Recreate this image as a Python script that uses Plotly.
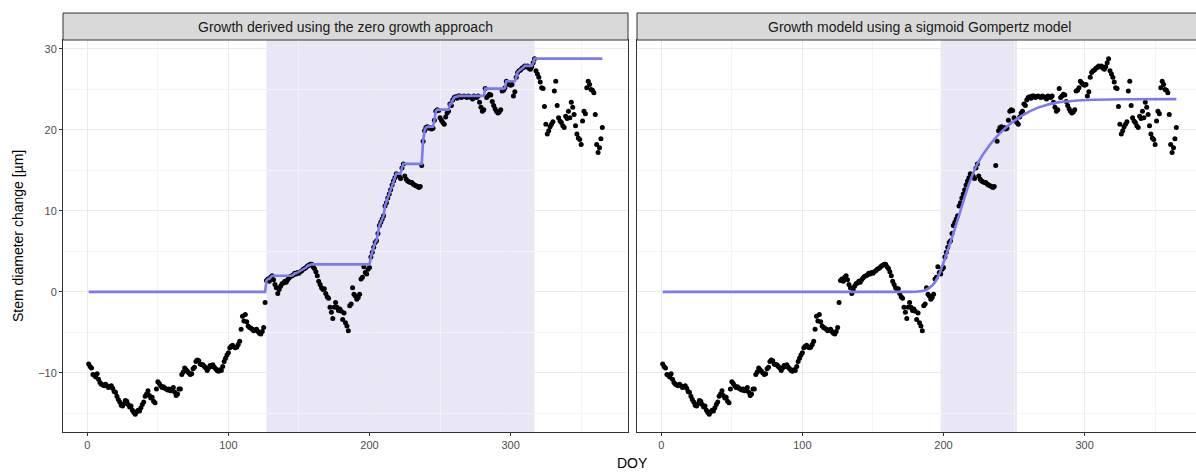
import numpy as np
import plotly.graph_objects as go
from plotly.subplots import make_subplots

# ---- data -------------------------------------------------------------
doy = list(range(1, 366))
stem_change = [
    -8.9, -9.2, -9.4, -10.2, -10.3, -10.5, -10.1, -10.8, -11.2, -11.4,
    -11.5, -11.6, -11.4, -11.6, -11.8, -11.7, -11.6, -11.9, -12.3, -12.4,
    -12.9, -13.3, -13.6, -14.0, -14.1, -13.8, -13.4, -13.5, -13.9, -14.2,
    -14.1, -14.6, -14.9, -15.1, -14.8, -14.6, -14.7, -14.3, -13.9, -13.6,
    -12.9, -12.6, -12.2, -12.8, -13.1, -13.0, -13.5, -13.7, -12.0, -11.1,
    -11.3, -11.6, -11.8, -11.7, -11.9, -12.0, -12.1, -12.0, -12.2, -12.0,
    -11.8, -12.4, -12.8, -12.6, -12.0, -12.0, -10.2, -9.9, -9.4, -9.6,
    -9.8, -10.0, -10.2, -10.1, -9.5, -9.3, -8.6, -8.4, -8.5, -8.9,
    -9.0, -9.0, -9.2, -9.4, -9.7, -9.4, -9.1, -9.2, -9.0, -9.3,
    -9.5, -9.7, -9.8, -9.6, -9.7, -9.2, -8.6, -8.2, -7.8, -7.5,
    -6.9, -6.7, -6.6, -6.8, -6.9, -6.8, -6.5, -6.1, -4.6, -3.0,
    -3.6, -2.8, -3.7, -4.2, -4.4, -4.5, -4.6, -4.8, -4.7, -4.6,
    -4.9, -5.1, -5.2, -4.9, -4.4, -1.3, 1.4, 1.6, 1.3, 1.8,
    2.0, 1.5, 0.9, 0.5, -0.2, 0.3, 0.7, 1.0, 1.1, 1.3,
    1.2, 1.5, 1.7, 1.9, 2.0, 2.1, 2.3, 2.2, 2.4, 2.3,
    2.5, 2.6, 2.8, 2.9, 3.0, 3.2, 3.3, 3.4, 3.4, 3.1,
    2.9, 2.5, 2.0, 1.3, 0.9, 0.5, 0.3, 0.4, -0.2, -0.6,
    -0.8, -1.9, -2.5, -3.3, -1.9, -1.3, -1.9, -2.3, -2.1, -2.4,
    -3.4, -2.6, -3.8, -4.2, -4.8, -1.7, -1.5, 0.5, -0.3, -0.5,
    -0.9, -0.7, -0.3, 1.6, 1.8, 3.1, 2.4, 2.2, 2.8, 3.0,
    4.3, 4.9, 5.5, 6.1, 6.3, 7.2, 8.2, 8.6, 9.0, 9.4,
    10.6, 11.0, 11.6, 12.1, 12.6, 13.2, 13.7, 14.1, 14.6, 14.5,
    14.3, 14.0, 15.3, 15.8, 14.3, 13.9, 13.7, 13.6, 13.5, 13.5,
    13.3, 13.2, 13.1, 13.0, 12.9, 13.0, 15.6, 18.6, 19.9, 20.3,
    20.4, 20.2, 20.3, 20.1, 20.2, 21.2, 22.3, 22.5, 22.4, 21.5,
    21.2, 20.9, 20.7, 21.6, 22.1, 22.3, 23.2, 23.0, 23.7, 24.0,
    24.1, 23.9, 24.2, 24.2, 24.0, 24.1, 24.2, 24.1, 24.0, 24.2,
    24.1, 24.0, 23.8, 24.2, 24.1, 24.0, 24.2, 23.4, 22.8, 22.3,
    22.5, 25.1, 24.0, 24.2, 24.4, 24.3, 23.5, 23.0, 22.6, 22.3,
    22.1, 22.2, 22.5, 24.8, 24.9, 25.2, 26.0, 25.8, 25.6, 25.5,
    25.6, 24.2, 24.7, 26.5, 27.1, 27.3, 27.4, 27.6, 27.7, 27.9,
    27.8, 27.9, 27.6, 27.5, 27.8, 28.3, 28.8, 27.3, 26.9, 26.5,
    25.9, 25.2, 25.1, 22.9, 20.7, 19.5, 19.9, 20.4, 20.7, 21.0,
    24.8, 26.0, 23.0, 21.5, 21.1, 20.9, 20.5, 20.3, 21.7, 21.4,
    22.3, 21.5, 23.4, 22.8, 21.9, 20.5, 19.5, 19.0, 18.8, 18.2,
    21.1, 22.3, 22.0, 25.2, 26.0, 25.6, 25.0, 24.9, 24.6, 21.9,
    18.2, 17.2, 17.8, 18.9, 20.3,
]

# growing-season limits (shaded periods)
zg_period = [127, 317]        # zero growth approach
gmp_period = [198, 252]       # Gompertz model

# fitted Gompertz curve
gmp_doy = [1, 40, 80, 120, 150, 165, 175, 180, 186, 190, 194, 197, 200, 206,
           212, 218, 224, 233, 243, 255, 267, 281, 302, 330, 365]
gmp_val = [0.0, 0.0, 0.0, 0.0, 0.0, 0.0, 0.0, 0.02, 0.15, 0.5, 1.2, 2.2, 3.6,
           6.7, 10.0, 13.3, 15.8, 18.2, 20.1, 21.7, 22.75, 23.4, 23.7, 23.78,
           23.8]

panel_titles = ["Growth derived using the zero growth approach",
                "Growth modeld using a sigmoid Gompertz model"]

x_ticks = [0, 100, 200, 300]
x_minor = [50, 150, 250, 350]
y_ticks = [-10, 0, 10, 20, 30]
y_minor = [-15, -5, 5, 15, 25]

# zero growth line: running maximum of the data inside the growth period
d_arr = np.array(doy)
v_arr = np.array(stem_change)
in_gs = (d_arr >= zg_period[0]) & (d_arr <= zg_period[1])
zg_line = np.zeros_like(v_arr)
zg_line[in_gs] = np.maximum.accumulate(v_arr[in_gs])
zg_line[d_arr > zg_period[1]] = zg_line[in_gs][-1]

# ---- figure -----------------------------------------------------------
# the original chart is slightly wider than the visible window; the right
# panel runs past the right edge and is clipped
W, H = 1204, 473
ml, mr, mt, mb = 63, 2, 40, 41
pw = W - ml - mr
ph = H - mt - mb
dom1 = [0, 565 / pw]
dom2 = [574 / pw, 1]

fig = make_subplots(rows=1, cols=2, shared_yaxes=True, horizontal_spacing=0)

line_col = "#7B7BEF"
pt = dict(mode="markers", marker=dict(color="black", size=5), showlegend=False,
          hoverinfo="x+y")

fig.add_trace(go.Scatter(x=doy, y=stem_change, **pt), row=1, col=1)
fig.add_trace(go.Scatter(x=doy, y=zg_line, mode="lines",
                         line=dict(color=line_col, width=2.6), showlegend=False),
              row=1, col=1)
fig.add_trace(go.Scatter(x=doy, y=stem_change, **pt), row=1, col=2)
fig.add_trace(go.Scatter(x=gmp_doy, y=gmp_val, mode="lines",
                         line=dict(color=line_col, width=2.6, shape="spline",
                                   smoothing=0.6),
                         showlegend=False),
              row=1, col=2)

shade = "rgba(140,130,205,0.19)"
for period, xr in [(zg_period, "x"), (gmp_period, "x2")]:
    fig.add_shape(type="rect", xref=xr, yref="paper", x0=period[0], x1=period[1],
                  y0=0, y1=1, fillcolor=shade, line_width=0, layer="between")

strip_h = 27 / ph
for dom, title in zip([dom1, dom2], panel_titles):
    fig.add_shape(type="rect", xref="paper", yref="paper", x0=dom[0], x1=dom[1],
                  y0=1, y1=1 + strip_h, fillcolor="#D9D9D9",
                  line=dict(color="#333333", width=1), layer="above")
    fig.add_annotation(xref="paper", yref="paper", x=(dom[0] + dom[1]) / 2,
                       y=1 + strip_h / 2, text=title, showarrow=False,
                       xanchor="center", yanchor="middle",
                       font=dict(size=14, color="#1A1A1A"))

axis_common = dict(showline=True, mirror=True, linecolor="#333333", linewidth=1,
                   gridcolor="#EBEBEB", gridwidth=1, zeroline=False,
                   ticks="outside", ticklen=3, tickcolor="#333333", automargin=False,
                   tickfont=dict(size=11, color="#4D4D4D"))

minor_x = dict(tickmode="array", tickvals=x_minor, showgrid=True,
               gridcolor="#F4F4F4", gridwidth=0.6, ticks="")
minor_y = dict(tickmode="array", tickvals=y_minor, showgrid=True,
               gridcolor="#F4F4F4", gridwidth=0.6, ticks="")

fig.update_layout(
    xaxis=dict(domain=dom1, range=[-17.2, 383.2], tickmode="array",
               tickvals=x_ticks, minor=minor_x, **axis_common),
    xaxis2=dict(domain=dom2, range=[-17.2, 383.2], tickmode="array",
                tickvals=x_ticks, minor=minor_x, **axis_common),
    yaxis=dict(range=[-17.3, 31.1], tickmode="array", tickvals=y_ticks,
               minor=minor_y, **axis_common),
)
y2 = dict(axis_common)
y2["ticks"] = ""
fig.update_layout(yaxis2=dict(range=[-17.3, 31.1], tickmode="array",
                              tickvals=y_ticks, showticklabels=False,
                              minor=minor_y, **y2))

# axis titles
fig.add_annotation(xref="paper", yref="paper", x=0.5, y=-31 / ph,
                   xanchor="center", yanchor="middle", text="DOY",
                   showarrow=False, font=dict(size=14, color="black"))
fig.add_annotation(xref="paper", yref="paper", x=-(ml - 18) / pw, y=0.5,
                   xanchor="center", yanchor="middle", textangle=-90,
                   text="Stem diameter change [µm]", showarrow=False,
                   font=dict(size=14, color="black"))

fig.update_layout(width=W, height=H,
                  margin=dict(l=ml, r=mr, t=mt, b=mb, autoexpand=False),
                  paper_bgcolor="white", plot_bgcolor="white",
                  font=dict(family="Liberation Sans, Arial, sans-serif"),
                  showlegend=False)

fig.write_html("out.html", config={"displayModeBar": False},
               post_script="document.body.style.margin='0';"
                           "document.body.style.overflow='hidden';")
